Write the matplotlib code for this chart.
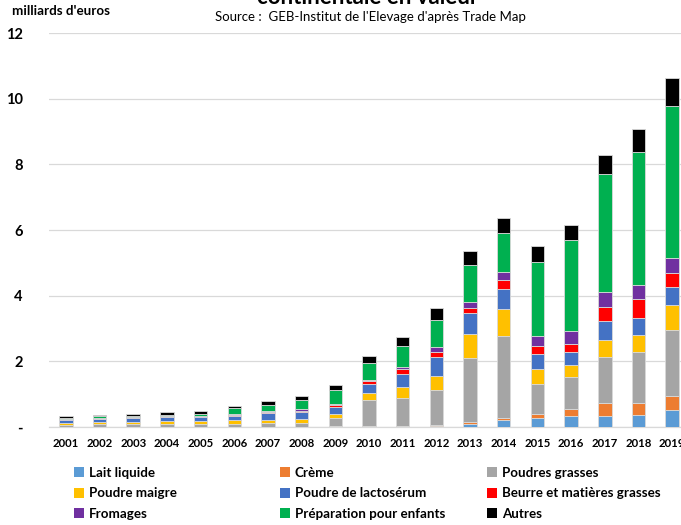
import matplotlib
matplotlib.use('Agg')
import matplotlib.pyplot as plt
import numpy as np
from matplotlib.patches import Patch

plt.rcParams['font.family'] = ['Lato', 'DejaVu Sans']

# years and values (milliards d'euros)
years = [str(y) for y in range(2001, 2020)]
lait = [0.005] * 8 + [0.01, 0.01, 0.01, 0.02, 0.08, 0.20, 0.27, 0.33, 0.33, 0.36, 0.51]
creme = [0.005] * 8 + [0.01, 0.01, 0.03, 0.05, 0.07, 0.07, 0.14, 0.21, 0.41, 0.38, 0.43]
poudres_grasses = [0.06, 0.08, 0.08, 0.09, 0.08, 0.09, 0.10, 0.10, 0.26, 0.81, 0.84, 1.07, 1.96, 2.49, 0.89, 0.98, 1.39, 1.54, 2.00]
poudre_maigre = [0.04, 0.05, 0.07, 0.09, 0.08, 0.11, 0.10, 0.13, 0.13, 0.21, 0.33, 0.42, 0.73, 0.84, 0.46, 0.36, 0.53, 0.51, 0.79]
lactoserum = [0.10, 0.10, 0.10, 0.10, 0.12, 0.14, 0.22, 0.22, 0.20, 0.28, 0.40, 0.57, 0.63, 0.59, 0.46, 0.40, 0.58, 0.53, 0.54]
beurre = [0.01, 0.01, 0.02, 0.02, 0.02, 0.02, 0.03, 0.04, 0.05, 0.07, 0.15, 0.15, 0.16, 0.28, 0.26, 0.26, 0.43, 0.59, 0.42]
fromages = [0.01, 0.01, 0.01, 0.01, 0.02, 0.03, 0.04, 0.04, 0.05, 0.05, 0.08, 0.16, 0.18, 0.25, 0.29, 0.38, 0.45, 0.42, 0.45]
preparation = [0.04, 0.08, 0.04, 0.06, 0.07, 0.17, 0.18, 0.27, 0.43, 0.52, 0.63, 0.81, 1.11, 1.20, 2.27, 2.78, 3.59, 4.05, 4.65]
autres = [0.05, 0.04, 0.06, 0.08, 0.08, 0.08, 0.12, 0.12, 0.13, 0.19, 0.26, 0.37, 0.44, 0.45, 0.46, 0.44, 0.57, 0.70, 0.84]

series = [lait, creme, poudres_grasses, poudre_maigre, lactoserum, beurre, fromages, preparation, autres]
labels = ['Lait liquide', 'Crème', 'Poudres grasses', 'Poudre maigre', 'Poudre de lactosérum',
          'Beurre et matières grasses', 'Fromages', 'Préparation pour enfants', 'Autres']
colors = ['#5B9BD5', '#ED7D31', '#A5A5A5', '#FFC000', '#4472C4', '#FF0000', '#7030A0', '#00B050', '#000000']

W, H = 681, 525
fig = plt.figure(figsize=(W / 100, H / 100), dpi=100)
# axes runs past the right edge, like the cropped original
ax = fig.add_axes([49 / W, (H - 427) / H, (689 - 49) / W, (427 - 33) / H])

x = np.arange(len(years))
bottom = np.zeros(len(years))
for vals, lab, col in zip(series, labels, colors):
    ax.bar(x, vals, 0.4, bottom=bottom, color=col, label=lab, edgecolor='#D9D9D9', linewidth=0.6, zorder=3)
    bottom += np.array(vals)

ax.set_xlim(-0.5, 18.5)
ax.set_ylim(0, 12)
ax.set_yticks(range(0, 13, 2))
ax.set_yticklabels(['-'] + [str(v) for v in range(2, 13, 2)], fontweight='bold', fontsize=10.5)
ax.set_xticks(x)
ax.set_xticklabels(years, fontweight='bold', fontsize=8.2)
ax.tick_params(axis='y', length=0, pad=19)
ax.tick_params(axis='x', length=0, pad=8)
ax.yaxis.grid(True, color='#D9D9D9', linewidth=0.9, zorder=0)
for s in ['top', 'right', 'left']:
    ax.spines[s].set_visible(False)
ax.spines['bottom'].set_color('#D9D9D9')
ax.spines['bottom'].set_linewidth(0.9)

fig.text(368 / W, 1 - 4 / H, 'continentale en valeur', ha='center', va='baseline',
         fontsize=16, fontweight='bold')
fig.text(370 / W, 1 - 17 / H, "Source :  GEB-Institut de l'Elevage d'après Trade Map",
         ha='center', va='center', fontsize=9.5)
fig.text(12 / W, 1 - 11 / H, "milliards d'euros", ha='left', va='center', fontsize=9.6, fontweight='bold')

# legend in three fixed columns, row-major order as in the original
handles = [Patch(facecolor=c, label=l) for c, l in zip(colors, labels)]
col_x = [74, 280, 487]
for i, cx in enumerate(col_x):
    fig.legend(handles=handles[i::3], loc='upper left', bbox_to_anchor=(cx / W, 1 - 467 / H),
               frameon=False, prop={'weight': 'bold', 'size': 9.6}, handlelength=0.75,
               handleheight=0.75, handletextpad=0.35, labelspacing=0.62, borderpad=0, borderaxespad=0)

fig.savefig('out.png', dpi=100)
